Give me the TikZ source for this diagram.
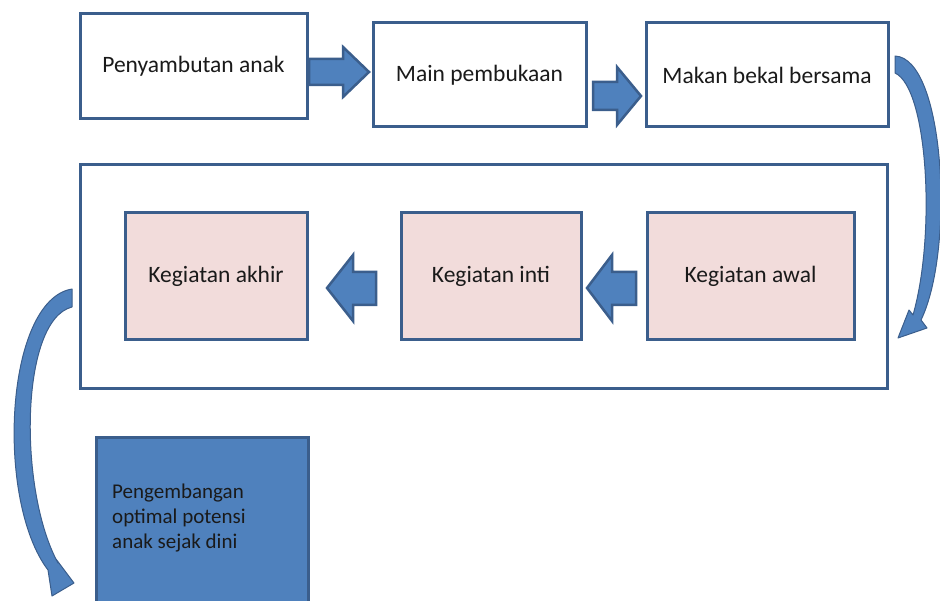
\documentclass[tikz,border=0pt]{standalone}
\usepackage{fontspec}
\setmainfont{Carlito}
\definecolor{edge}{HTML}{3B5E8C}
\definecolor{fillblue}{HTML}{4F81BD}
\definecolor{pinkfill}{HTML}{F2DCDB}
\definecolor{txt}{HTML}{1A1A1A}
\begin{document}
\begin{tikzpicture}[x=1pt,y=-1pt,
  box/.style={draw=edge,line width=3pt,fill=white,rectangle,inner sep=0pt,text=txt,font=\fontsize{23.5}{28}\selectfont},
  pinkbox/.style={box,fill=pinkfill},
  goalbox/.style={draw=edge,line width=3pt,fill=fillblue,rectangle,inner sep=0pt},
  blockarrow/.style={draw=edge,line width=2.5pt,fill=fillblue,line join=miter},
  curvearrow/.style={draw=edge,line width=1pt,fill=fillblue,line join=round}]
\useasboundingbox (0,0) rectangle (940,601);
\begin{scope}
\clip (0,0) rectangle (940,601);
% top row
\node[box,minimum width=227pt,minimum height=105pt] (b1) at (193.5,66) {Penyambutan anak};
\node[box,minimum width=213pt,minimum height=104pt] (b2) at (479.5,75) {Main pembukaan};
\node[box,minimum width=242pt,minimum height=104pt] (b3) at (767,75) {Makan bekal bersama};
% big frame
\node[box,minimum width=807pt,minimum height=224pt] (frame) at (483.5,277) {};
\node[pinkbox,minimum width=182pt,minimum height=127pt] (akhir) at (216,276.5) {Kegiatan akhir};
\node[pinkbox,minimum width=180pt,minimum height=127pt] (inti) at (491,276.5) {Kegiatan inti};
\node[pinkbox,minimum width=207pt,minimum height=127pt] (awal) at (750.5,276.5) {Kegiatan awal};
% goal box
\node[goalbox,minimum width=212pt,minimum height=240pt] (goal) at (202,558) {};
\node[anchor=north west,align=left,text=txt,inner sep=0pt,font=\fontsize{21}{25}\selectfont] (goaltext) at (112,484) {Pengembangan\\optimal potensi\\anak sejak dini};
% block arrows
\path[blockarrow] (309,59) -- (343,59) -- (343,47) -- (369,72) -- (343,97) -- (343,85) -- (309,85) -- cycle;
\path[blockarrow] (593,82) -- (617,82) -- (617,67) -- (641,96) -- (617,125) -- (617,110) -- (593,110) -- cycle;
\path[blockarrow] (376,272) -- (353,272) -- (353,255) -- (327,288) -- (353,321) -- (353,305) -- (376,305) -- cycle;
\path[blockarrow] (636,272) -- (612,272) -- (612,255) -- (587,288) -- (612,321) -- (612,305) -- (636,305) -- cycle;
% curved arrows
\path[curvearrow] (895,56) .. controls (945,58) and (955,250) .. (921,320) -- (927,328) -- (898,338) -- (909,310) -- (913,315) .. controls (936,235) and (928,88) .. (895,73) -- cycle;
\path[curvearrow] (72,289) .. controls (5,300) and (-5,500) .. (48,570) -- (52,596) -- (74,583) -- (56,559) -- (58,563) .. controls (18,490) and (20,320) .. (72,307) -- cycle;
\end{scope}
\end{tikzpicture}
\end{document}
